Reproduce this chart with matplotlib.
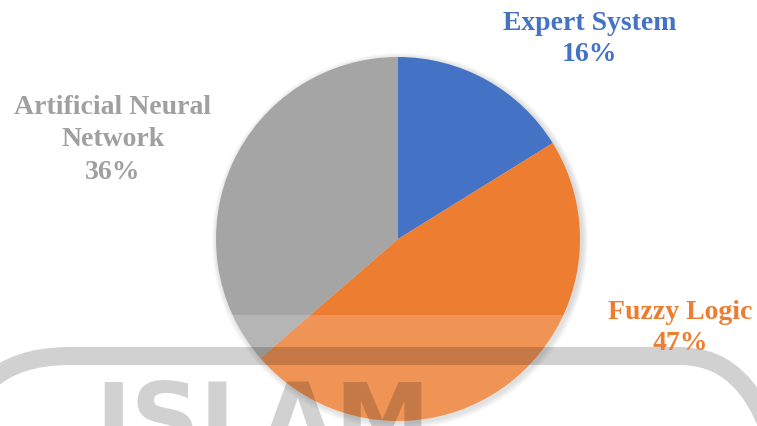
import matplotlib.pyplot as plt
from matplotlib.patches import Circle, Rectangle, FancyBboxPatch

labels = ['Expert System', 'Fuzzy Logic', 'Artificial Neural\nNetwork']
values = [16, 47, 36]
colors = ['#4472C4', '#ED7D31', '#A5A5A5']
label_colors = ['#4472C4', '#ED7D31', '#A0A0A0']

W, H = 757, 426

plt.rcParams['font.family'] = ['serif']
plt.rcParams['font.serif'] = ['Liberation Serif', 'DejaVu Serif']


def fy(y):
    # pixel row (from top) -> data y
    return H - y


fig = plt.figure(figsize=(7.57, 4.26), dpi=100)
ax = fig.add_axes([0, 0, 1, 1])

cx, cy, r = 398, fy(239), 182

# soft shadow behind the pie
for k in range(6):
    ax.add_patch(Circle((cx + 2, cy - 2), r + 1 + k, color='black', alpha=0.025, lw=0, zorder=0))

ax.pie(values, colors=colors, startangle=90, counterclock=False,
       center=(cx, cy), radius=r, frame=True,
       wedgeprops=dict(linewidth=0, zorder=1))

# labels
total = sum(values)
pcts = ['{:.0f}%'.format(v / total * 100) for v in values]
label_pos = [(590, 39), (680, 328), (113, 140)]
spacing = [1.3, 1.3, 1.38]
for lab, p, c, (x, y), ls in zip(labels, pcts, label_colors, label_pos, spacing):
    ax.text(x, fy(y), lab + '\n' + p, ha='center', va='center', color=c,
            fontsize=20, fontweight='bold', linespacing=ls, zorder=5)

# faded watermark at the bottom
ax.add_patch(Rectangle((0, 0), W, fy(315), color='white', alpha=0.18, lw=0, zorder=3))
ring = FancyBboxPatch((-40, fy(700)), 830, 700 - 356,
                      boxstyle='round,pad=0,rounding_size=110',
                      fill=False, ec='black', lw=18 * 0.72, alpha=0.18, zorder=4)
ax.add_patch(ring)
ax.text(95, fy(452), 'ISLAM', ha='left', va='baseline', color='black', alpha=0.18,
        fontsize=69, fontweight='bold', family='DejaVu Sans', zorder=4)

ax.set_xlim(0, W)
ax.set_ylim(0, H)
ax.set_aspect('auto')
ax.axis('off')

fig.savefig('out.png', dpi=100)
